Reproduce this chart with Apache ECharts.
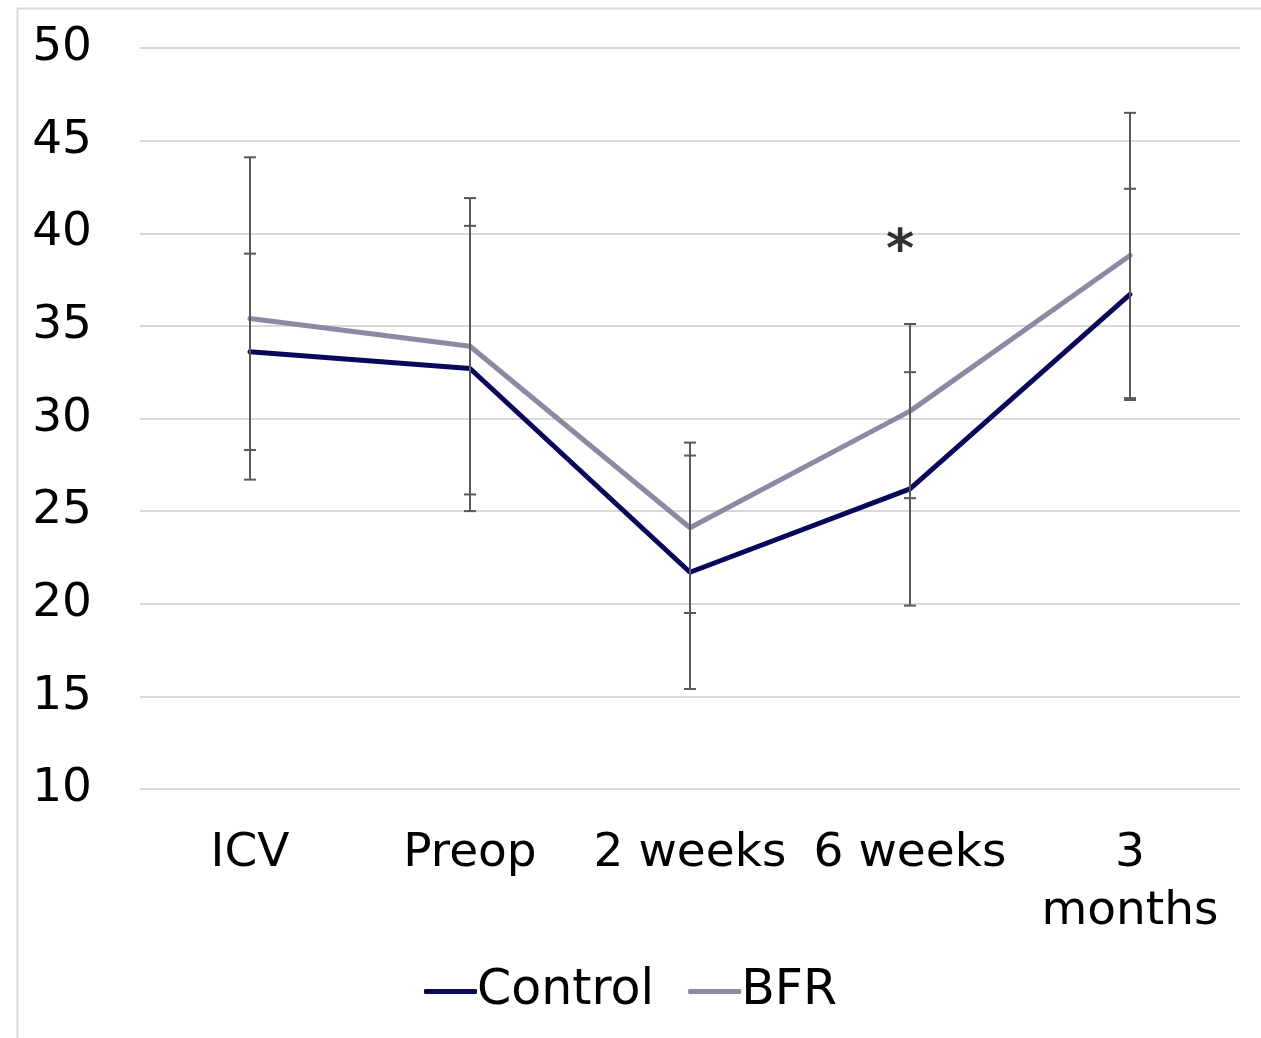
<!DOCTYPE html>
<html><head><meta charset="utf-8">
<script src="https://cdn.jsdelivr.net/npm/echarts@6/dist/echarts.min.js"></script>
<style>html,body{margin:0;padding:0;background:#fff}#c{width:1261px;height:1038px}</style>
</head><body><div id="c"></div>
<script>
const categories = ['ICV', 'Preop', '2 weeks', '6 weeks', '3 months'];
const controlMean = [33.6, 32.7, 21.7, 26.2, 36.7];
const controlSD = [5.3, 7.7, 6.3, 6.3, 5.7];
const bfrMean = [35.4, 33.9, 24.1, 30.4, 38.8];
const bfrSD = [8.7, 8.0, 4.6, 4.7, 7.7];
const yTicks = [10, 15, 20, 25, 30, 35, 40, 45, 50];
const significance = [['6 weeks', 39.5, '*']];

const FONT = 'DejaVu Sans';
function errData(mean, sd) { return mean.map((m, i) => [i, m - sd[i], m + sd[i]]); }
function errItem(params, api) {
  const x = api.value(0);
  const lo = api.coord([x, api.value(1)]);
  const hi = api.coord([x, api.value(2)]);
  const w = 6;
  const st = { stroke: '#595959', lineWidth: 2 };
  return { type: 'group', children: [
    { type: 'line', shape: { x1: lo[0], y1: lo[1], x2: hi[0], y2: hi[1] }, style: st },
    { type: 'line', shape: { x1: lo[0] - w, y1: lo[1], x2: lo[0] + w, y2: lo[1] }, style: st },
    { type: 'line', shape: { x1: hi[0] - w, y1: hi[1], x2: hi[0] + w, y2: hi[1] }, style: st }
  ]};
}
const chart = echarts.init(document.getElementById('c'));
chart.setOption({
  animation: false,
  backgroundColor: '#fff',
  textStyle: { fontFamily: FONT },
  graphic: [{ type: 'rect', left: 15, top: 6, shape: { width: 1400, height: 1200 }, style: { fill: 'none', stroke: '#d9d9d9', lineWidth: 2 }, silent: true }],
  grid: { left: 140, right: 21, top: 48, bottom: 249, containLabel: false },
  legend: {
    bottom: 17, left: 'center',
    icon: 'roundRect',
    itemWidth: 53, itemHeight: 5, itemGap: 34,
    textStyle: { fontSize: 49, color: '#000', fontFamily: FONT, padding: [0, 0, 0, -5] },
    data: [{ name: 'Control' }, { name: 'BFR' }]
  },
  xAxis: {
    type: 'category', data: categories, boundaryGap: true,
    axisLine: { show: false }, axisTick: { show: false },
    axisLabel: { fontSize: 47, color: '#000', fontFamily: FONT, margin: 36, lineHeight: 58, interval: 0,
      formatter: (v) => v.length > 7 ? v.replace(' ', '\n') : v }
  },
  yAxis: {
    type: 'value', min: yTicks[0], max: yTicks[yTicks.length - 1], interval: 5,
    axisLine: { show: false }, axisTick: { show: false },
    axisLabel: { fontSize: 47, color: '#000', fontFamily: FONT, margin: 48 },
    splitLine: { lineStyle: { color: '#d9d9d9', width: 2 } }
  },
  series: [
    { name: 'Control', type: 'line', data: controlMean, symbol: 'none', z: 2,
      lineStyle: { color: '#08085a', width: 5, cap: 'round' }, itemStyle: { color: '#08085a' } },
    { name: 'BFR', type: 'line', data: bfrMean, symbol: 'none', z: 2,
      lineStyle: { color: '#8a8aa3', width: 5, cap: 'round' }, itemStyle: { color: '#8a8aa3' } },
    { type: 'custom', data: errData(controlMean, controlSD), renderItem: errItem, z: 3, silent: true },
    { type: 'custom', data: errData(bfrMean, bfrSD), renderItem: errItem, z: 3, silent: true },
    { type: 'scatter', data: significance.map(s => [s[0], s[1]]), symbolSize: 0, silent: true, z: 4,
      label: { show: true, position: 'inside', offset: [-10, 10], formatter: (p) => significance[p.dataIndex][2],
        fontSize: 54, fontWeight: 'bold', color: '#000', fontFamily: FONT } }
  ]
});
</script></body></html>
